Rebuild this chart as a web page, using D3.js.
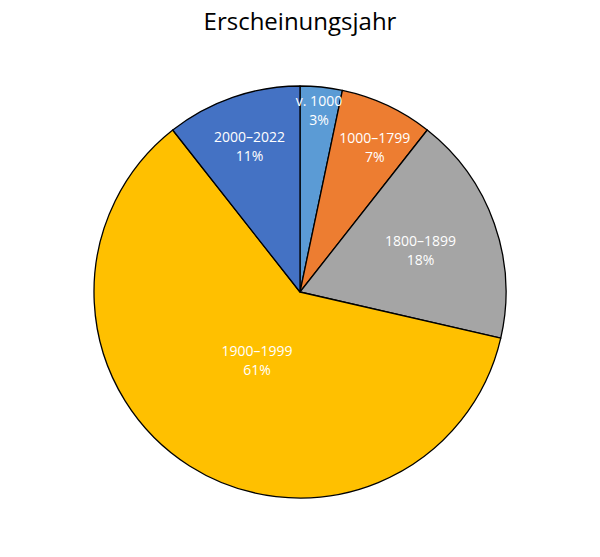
<!DOCTYPE html>
<html><head><meta charset="utf-8">
<script src="https://cdn.jsdelivr.net/npm/d3@7"></script>
<style>body{margin:0;background:#fff}svg{display:block}</style>
</head><body><svg id="c" width="600" height="557"></svg>
<script>
const categories = ["v. 1000", "1000–1799", "1800–1899", "1900–1999", "2000–2022"];
const values = [3.3, 7.3, 18.0, 60.8, 10.6];
const percentLabels = ["3%", "7%", "18%", "61%", "11%"];
const colors = ["#5B9BD5", "#ED7D31", "#A5A5A5", "#FFC000", "#4472C4"];
const labelRadiusFrac = [0.89, 0.79, 0.62, 0.39, 0.75];
const labelAngleShift = [0, 0.04, 0, 0, 0];

const svg = d3.select("#c");
const cx = 300, cy = 292, R = 206;
svg.append("text").attr("x", 300).attr("y", 30).attr("text-anchor", "middle")
  .attr("font-family", "'Open Sans', sans-serif").attr("font-size", 24).attr("fill", "#000")
  .text("Erscheinungsjahr");

const pie = d3.pie().sort(null).value(d => d)(values);
const arc = d3.arc().innerRadius(0).outerRadius(R);
const g = svg.append("g").attr("transform", `translate(${cx},${cy})`);
g.selectAll("path").data(pie).join("path")
  .attr("d", arc).attr("fill", (d, i) => colors[i])
  .attr("stroke", "#000").attr("stroke-width", 1.3).attr("stroke-linejoin", "round");

pie.forEach((d, i) => {
  const r = R * labelRadiusFrac[i];
  const a = (d.startAngle + d.endAngle) / 2 + labelAngleShift[i];
  const x = r * Math.sin(a), y = -r * Math.cos(a);
  const t = g.append("text").attr("text-anchor", "middle")
    .attr("font-family", "'Open Sans', sans-serif").attr("font-size", 14).attr("fill", "#fff");
  t.append("tspan").attr("x", x).attr("y", y - 4).text(categories[i]);
  t.append("tspan").attr("x", x).attr("y", y + 15).text(percentLabels[i]);
});
</script></body></html>
